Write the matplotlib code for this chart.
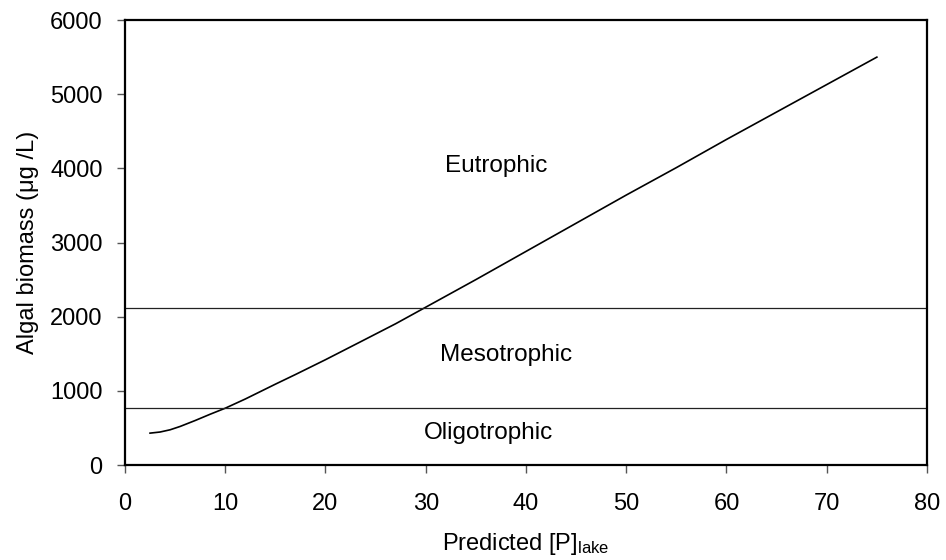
import matplotlib
matplotlib.use('Agg')
import matplotlib.pyplot as plt

plt.rcParams['font.family'] = ['Liberation Sans', 'DejaVu Sans']
plt.rcParams['mathtext.fontset'] = 'custom'
plt.rcParams['mathtext.rm'] = 'Liberation Sans'
plt.rcParams['mathtext.it'] = 'Liberation Sans:italic'

# curve
p_lake = [2.5, 3.5, 4.5, 5.5, 7, 8.5, 10, 12, 13.5, 15, 17, 20, 23.5, 27, 30,
          35, 40, 45, 50, 55, 60, 65, 70, 75]
biomass = [430, 445, 475, 520, 600, 685, 766, 890, 990, 1090, 1220, 1420, 1662,
           1905, 2128, 2500, 2880, 3260, 3640, 4010, 4390, 4760, 5130, 5500]

# trophic boundaries
bounds = [766, 2112]
labels = ['Eutrophic', 'Mesotrophic', 'Oligotrophic']
label_x = [37.0, 38.0, 36.3]
label_y = [3946, 1402, 350]

fig = plt.figure(figsize=(9.46, 5.6), dpi=100)
ax = fig.add_axes([0.1321, 0.1696, 0.8478, 0.7946])

ax.plot(p_lake, biomass, color='black', lw=1.2)
for b in bounds:
    ax.axhline(b, color='#222222', lw=0.9)

for t, x, y in zip(labels, label_x, label_y):
    ax.text(x, y, t, ha='center', va='baseline', fontsize=17.5)

ax.set_xlim(0, 80)
ax.set_ylim(0, 6000)
ax.set_xticks(range(0, 81, 10))
ax.set_yticks(range(0, 6001, 1000))
ax.tick_params(direction='out', length=6, width=1, color='#555555', labelsize=17)
ax.tick_params(axis='x', pad=14)
ax.tick_params(axis='y', pad=10)
for s in ax.spines.values():
    s.set_linewidth(1.6)

ax.set_xlabel('Predicted [P]$_{\\mathrm{lake}}$', fontsize=17, labelpad=12)
ax.set_ylabel('Algal biomass (\u03bcg /L)', fontsize=17, labelpad=8)

fig.savefig('out.png', dpi=100)
